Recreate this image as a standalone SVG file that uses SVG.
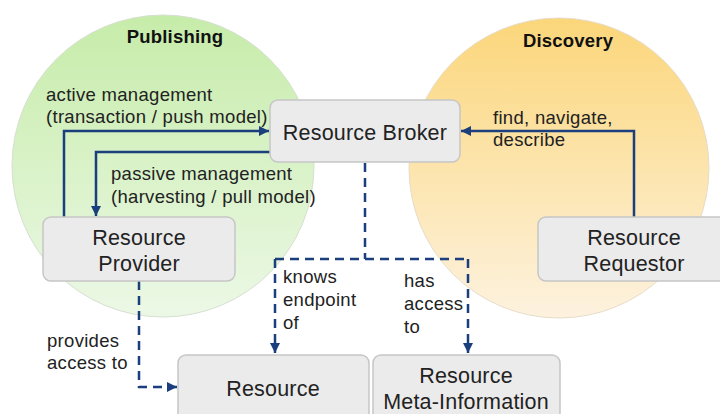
<svg xmlns="http://www.w3.org/2000/svg" width="720" height="414" viewBox="0 0 720 414">
<defs>
<linearGradient id="gGreen" x1="0" y1="0" x2="0" y2="1">
<stop offset="0" stop-color="#c6eca9"/>
<stop offset="1" stop-color="#ecf8e6"/>
</linearGradient>
<linearGradient id="gOrange" x1="0" y1="0" x2="0" y2="1">
<stop offset="0" stop-color="#fbd67a"/>
<stop offset="1" stop-color="#fdf2df"/>
</linearGradient>
<marker id="arr" viewBox="0 0 10 10" refX="10" refY="5" markerWidth="4" markerHeight="4" orient="auto" markerUnits="strokeWidth">
<path d="M0,0 L10,5 L0,10 z" fill="#1a3f7c"/>
</marker>
<style>
.box{fill:#ebebeb;stroke:#c6c6c6;stroke-width:1.5}
.nt{font-family:"Liberation Sans",Arial,sans-serif;font-size:21.5px;letter-spacing:0.2px;fill:#222;text-anchor:middle}
.lb{font-family:"Liberation Sans",Arial,sans-serif;font-size:18.5px;letter-spacing:0.3px;fill:#222}
.ti{font-family:"Liberation Sans",Arial,sans-serif;font-size:18.5px;letter-spacing:0.2px;font-weight:bold;fill:#111;text-anchor:middle}
.ln{fill:none;stroke:#1a3f7c;stroke-width:2.5}
.ds{fill:none;stroke:#1a3f7c;stroke-width:2.5;stroke-dasharray:9 6}
</style>
</defs>
<rect width="720" height="414" fill="#ffffff"/>
<g id="publishing">
<circle cx="163" cy="166" r="151" fill="url(#gGreen)" stroke="#d6dfd0" stroke-width="1"/>
<text class="ti" x="175" y="43">Publishing</text>
</g>
<g id="discovery">
<circle cx="559" cy="168" r="150" fill="url(#gOrange)" stroke="#e6dcc8" stroke-width="1"/>
<text class="ti" x="568" y="47">Discovery</text>
</g>
<g id="connectors">
<path class="ln" d="M64,217 V131 H269" marker-end="url(#arr)"/>
<path class="ln" d="M270,152 H96 V216" marker-end="url(#arr)"/>
<path class="ln" d="M634,217 V131 H461" marker-end="url(#arr)"/>
<path class="ds" d="M365,163 V259"/>
<path class="ds" d="M275,259 H468"/>
<path class="ds" d="M275,259 V353" marker-end="url(#arr)"/>
<path class="ds" d="M468,259 V353" marker-end="url(#arr)"/>
<path class="ds" d="M139,281 V387 H177" marker-end="url(#arr)"/>
<text class="lb" x="46" y="101">active management</text>
<text class="lb" x="46" y="123">(transaction / push model)</text>
<text class="lb" x="111" y="180">passive management</text>
<text class="lb" x="111" y="203">(harvesting / pull model)</text>
<text class="lb" x="493" y="124">find, navigate,</text>
<text class="lb" x="493" y="146">describe</text>
<text class="lb" x="283" y="283">knows</text>
<text class="lb" x="283" y="306">endpoint</text>
<text class="lb" x="283" y="329">of</text>
<text class="lb" x="404" y="287">has</text>
<text class="lb" x="404" y="310">access</text>
<text class="lb" x="404" y="333">to</text>
<text class="lb" x="47" y="347">provides</text>
<text class="lb" x="47" y="369">access to</text>
</g>
<g id="broker">
<rect class="box" x="270" y="100" width="190" height="62" rx="8"/>
<text class="nt" x="365" y="140">Resource Broker</text>
</g>
<g id="provider">
<rect class="box" x="43" y="217" width="192" height="64" rx="8"/>
<text class="nt" x="139" y="245">Resource</text>
<text class="nt" x="139" y="271">Provider</text>
</g>
<g id="requestor">
<rect class="box" x="538" y="217" width="192" height="64" rx="8"/>
<text class="nt" x="634" y="245">Resource</text>
<text class="nt" x="634" y="271">Requestor</text>
</g>
<g id="resource">
<rect class="box" x="178" y="355" width="191" height="70" rx="8"/>
<text class="nt" x="273" y="396">Resource</text>
</g>
<g id="metainfo">
<rect class="box" x="373" y="355" width="187" height="70" rx="8"/>
<text class="nt" x="466" y="383">Resource</text>
<text class="nt" x="466" y="409">Meta-Information</text>
</g>
</svg>
